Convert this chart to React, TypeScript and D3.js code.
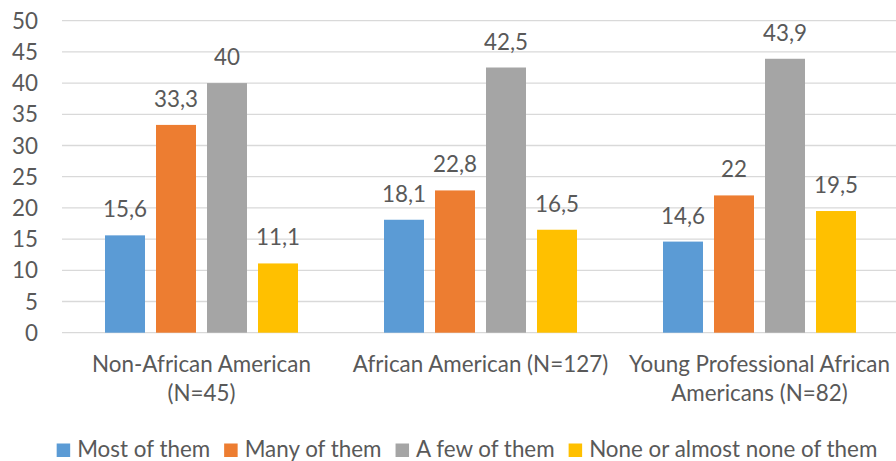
import React, { useEffect, useRef } from "react";
import * as d3 from "d3";

const categories = [
  "Non-African American (N=45)",
  "African American (N=127)",
  "Young Professional African Americans (N=82)",
];
const seriesNames = ["Most of them", "Many of them", "A few of them", "None or almost none of them"];
const seriesColors = ["#5B9BD5", "#ED7D31", "#A5A5A5", "#FFC000"];
const mostOfThem = [15.6, 18.1, 14.6];
const manyOfThem = [33.3, 22.8, 22];
const aFewOfThem = [40, 42.5, 43.9];
const noneOfThem = [11.1, 16.5, 19.5];
const yTicks = [0, 5, 10, 15, 20, 25, 30, 35, 40, 45, 50];

const W = 896;
const H = 461;
const FONT = "Lato, 'Liberation Sans', sans-serif";
const FS = 22.4;
const TEXT = "#595959";

export default function App() {
  const ref = useRef<SVGSVGElement | null>(null);

  useEffect(() => {
    const svg = d3.select(ref.current);
    svg.selectAll("*").remove();
    const series = [mostOfThem, manyOfThem, aFewOfThem, noneOfThem];

    const left = 62, right = 899, top = 20.7, bottom = 332.7;
    const x = d3.scaleBand<string>().domain(categories).range([left, right]).paddingInner(0).paddingOuter(0);
    const y = d3.scaleLinear().domain([0, 50]).range([bottom, top]);
    const groupW = 193;
    const inner = d3
      .scaleBand<string>()
      .domain(seriesNames)
      .range([(x.bandwidth() - groupW) / 2, (x.bandwidth() + groupW) / 2])
      .paddingInner(11 / 51)
      .paddingOuter(0);

    const g = svg.append("g");
    g.selectAll("line.grid")
      .data(yTicks)
      .join("line")
      .attr("x1", left)
      .attr("x2", right)
      .attr("y1", (d) => y(d))
      .attr("y2", (d) => y(d))
      .attr("stroke", "#D9D9D9")
      .attr("stroke-width", 1.3);

    g.selectAll("text.ytick")
      .data(yTicks)
      .join("text")
      .attr("x", 38)
      .attr("y", (d) => y(d))
      .attr("dy", "0.36em")
      .attr("text-anchor", "end")
      .attr("font-family", FONT)
      .attr("font-size", FS)
      .attr("fill", TEXT)
      .text((d) => String(d));

    series.forEach((vals, si) => {
      const name = seriesNames[si];
      g.selectAll(`rect.s${si}`)
        .data(vals)
        .join("rect")
        .attr("x", (_, i) => (x(categories[i]) as number) + (inner(name) as number))
        .attr("width", inner.bandwidth())
        .attr("y", (d) => y(d))
        .attr("height", (d) => y(0) - y(d))
        .attr("fill", seriesColors[si]);
      g.selectAll(`text.l${si}`)
        .data(vals)
        .join("text")
        .attr("x", (_, i) => (x(categories[i]) as number) + (inner(name) as number) + inner.bandwidth() / 2)
        .attr("y", (d) => y(d) - 18)
        .attr("text-anchor", "middle")
        .attr("font-family", FONT)
        .attr("font-size", FS)
        .attr("fill", TEXT)
        .text((d) => String(d).replace(".", ","));
    });

    categories.forEach((c) => {
      const cx = (x(c) as number) + x.bandwidth() / 2;
      const t = g
        .append("text")
        .attr("text-anchor", "middle")
        .attr("font-family", FONT)
        .attr("font-size", FS)
        .attr("fill", TEXT);
      const words = c.split(" ");
      const lines: string[] = [];
      let cur = "";
      const probe = t.append("tspan");
      words.forEach((w) => {
        const test = cur ? cur + " " + w : w;
        probe.text(test);
        const len = (probe.node() as SVGTextContentElement).getComputedTextLength();
        if (len > x.bandwidth() - 4 && cur) {
          lines.push(cur);
          cur = w;
        } else cur = test;
      });
      lines.push(cur);
      probe.remove();
      lines.forEach((ln, li) => {
        t.append("tspan").attr("x", cx).attr("y", 372 + li * 29).text(ln);
      });
    });

    const lg = svg.append("g");
    const sq = 13.5, gapST = 7, gapItem = 14;
    let cx = 0;
    seriesNames.forEach((n, i) => {
      const it = lg.append("g");
      it.append("rect")
        .attr("x", cx)
        .attr("y", 443.5)
        .attr("width", sq)
        .attr("height", sq)
        .attr("fill", seriesColors[i]);
      const tx = it
        .append("text")
        .attr("x", cx + sq + gapST)
        .attr("y", 457)
        .attr("font-family", FONT)
        .attr("font-size", FS)
        .attr("fill", TEXT)
        .text(n);
      const len = (tx.node() as SVGTextContentElement).getComputedTextLength();
      cx += sq + gapST + len + gapItem;
    });
    const total = cx - gapItem;
    lg.attr("transform", `translate(${467 - total / 2},0)`);
  }, []);

  return (
    <svg
      ref={ref}
      width={W}
      height={H}
      style={{ position: "absolute", left: 0, top: 0, background: "#fff" }}
    />
  );
}
